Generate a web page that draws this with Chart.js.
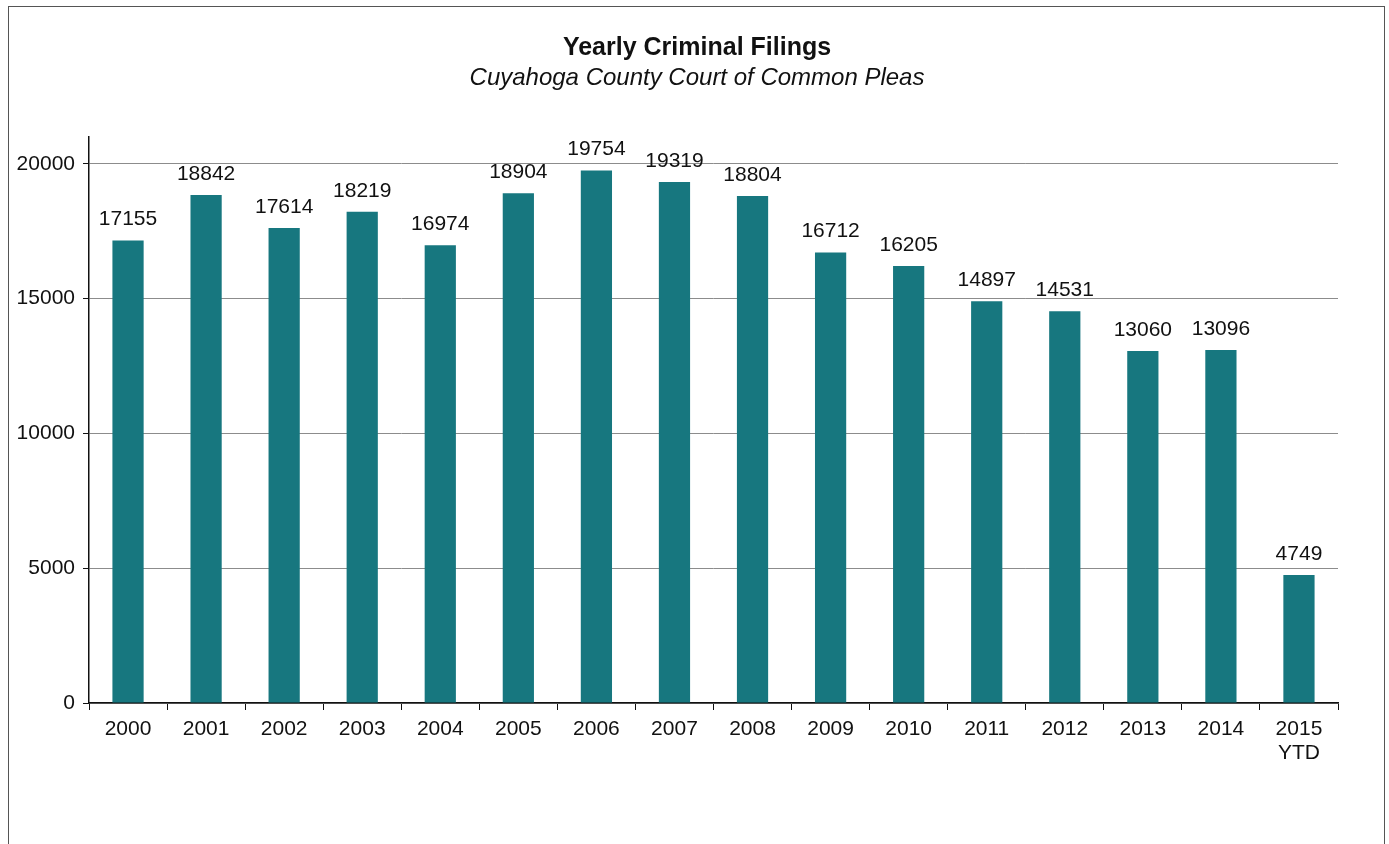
<!DOCTYPE html>
<html>
<head>
<meta charset="utf-8">
<script src="https://cdn.jsdelivr.net/npm/chart.js@4/dist/chart.umd.min.js"></script>
<style>
  html, body { margin: 0; padding: 0; background: #fff; overflow: hidden; }
  #marco {
    position: absolute; left: 8px; top: 6px; width: 1375px; height: 900px;
    border: 1.5px solid #555;
  }
  #lienzo { position: absolute; left: 0; top: 0; }
</style>
</head>
<body>
<div id="marco"></div>
<canvas id="lienzo" width="1389" height="844"></canvas>
<script>
// =============================================
// DATOS
// =============================================
const anios = ["2000", "2001", "2002", "2003", "2004", "2005", "2006", "2007",
  "2008", "2009", "2010", "2011", "2012", "2013", "2014", ["2015", "YTD"]];
const expedientes = [17155, 18842, 17614, 18219, 16974, 18904, 19754, 19319,
  18804, 16712, 16205, 14897, 14531, 13060, 13096, 4749];
const marcasY = [0, 5000, 10000, 15000, 20000];

const fuente = "'Liberation Sans', Arial, sans-serif";

// Etiquetas encima de cada barra
const etiquetasBarras = {
  id: "etiquetasBarras",
  afterDatasetsDraw(chart) {
    const ctx = chart.ctx;
    const meta = chart.getDatasetMeta(0);
    ctx.save();
    ctx.font = "21px " + fuente;
    ctx.fillStyle = "#111";
    ctx.textAlign = "center";
    ctx.textBaseline = "alphabetic";
    meta.data.forEach((barra, i) => {
      ctx.fillText(String(expedientes[i]), barra.x, barra.y - 15);
    });
    ctx.restore();
  }
};

new Chart(document.getElementById("lienzo"), {
  type: "bar",
  data: {
    labels: anios,
    datasets: [{
      data: expedientes,
      backgroundColor: "#17777f",
      borderWidth: 0,
      barPercentage: 0.4,
      categoryPercentage: 1.0
    }]
  },
  options: {
    responsive: false,
    animation: false,
    layout: { padding: { left: 9, right: 4, top: 0, bottom: 0 } },
    plugins: {
      legend: { display: false },
      tooltip: { enabled: false },
      title: {
        display: true,
        text: "Yearly Criminal Filings",
        color: "#111",
        font: { family: fuente, size: 25, weight: "bold" },
        padding: { top: 33, bottom: 1 }
      },
      subtitle: {
        display: true,
        text: "Cuyahoga County Court of Common Pleas",
        color: "#111",
        font: { family: fuente, size: 24, style: "italic" },
        padding: { top: 0, bottom: 44 }
      }
    },
    scales: {
      x: {
        grid: {
          display: true,
          drawOnChartArea: false,
          drawTicks: true,
          tickLength: 7,
          offset: true,
          color: "#111"
        },
        border: { display: true, color: "#111", width: 1.5 },
        ticks: {
          color: "#111",
          font: { family: fuente, size: 21, lineHeight: 1.15 },
          padding: 7,
          maxRotation: 0,
          autoSkip: false
        },
        afterFit(escala) { escala.height = 141; }
      },
      y: {
        min: 0,
        max: 21000,
        grid: {
          color: "#8c8c8c",
          lineWidth: 1,
          tickColor: "#111",
          tickLength: 6
        },
        border: { display: true, color: "#111", width: 1.5 },
        ticks: {
          color: "#111",
          font: { family: fuente, size: 21 },
          padding: 8,
          callback: (v) => String(v)
        },
        afterBuildTicks(escala) {
          escala.ticks = marcasY.map((v) => ({ value: v }));
        },
        afterFit(escala) { escala.width = 80; }
      },
      // eje vacío a la derecha, solo para reservar margen
      derecha: {
        position: "right",
        min: 0,
        max: 21000,
        grid: { display: false },
        border: { display: false },
        ticks: { display: false },
        afterFit(escala) { escala.width = 47; }
      }
    }
  },
  plugins: [etiquetasBarras]
});
</script>
</body>
</html>
